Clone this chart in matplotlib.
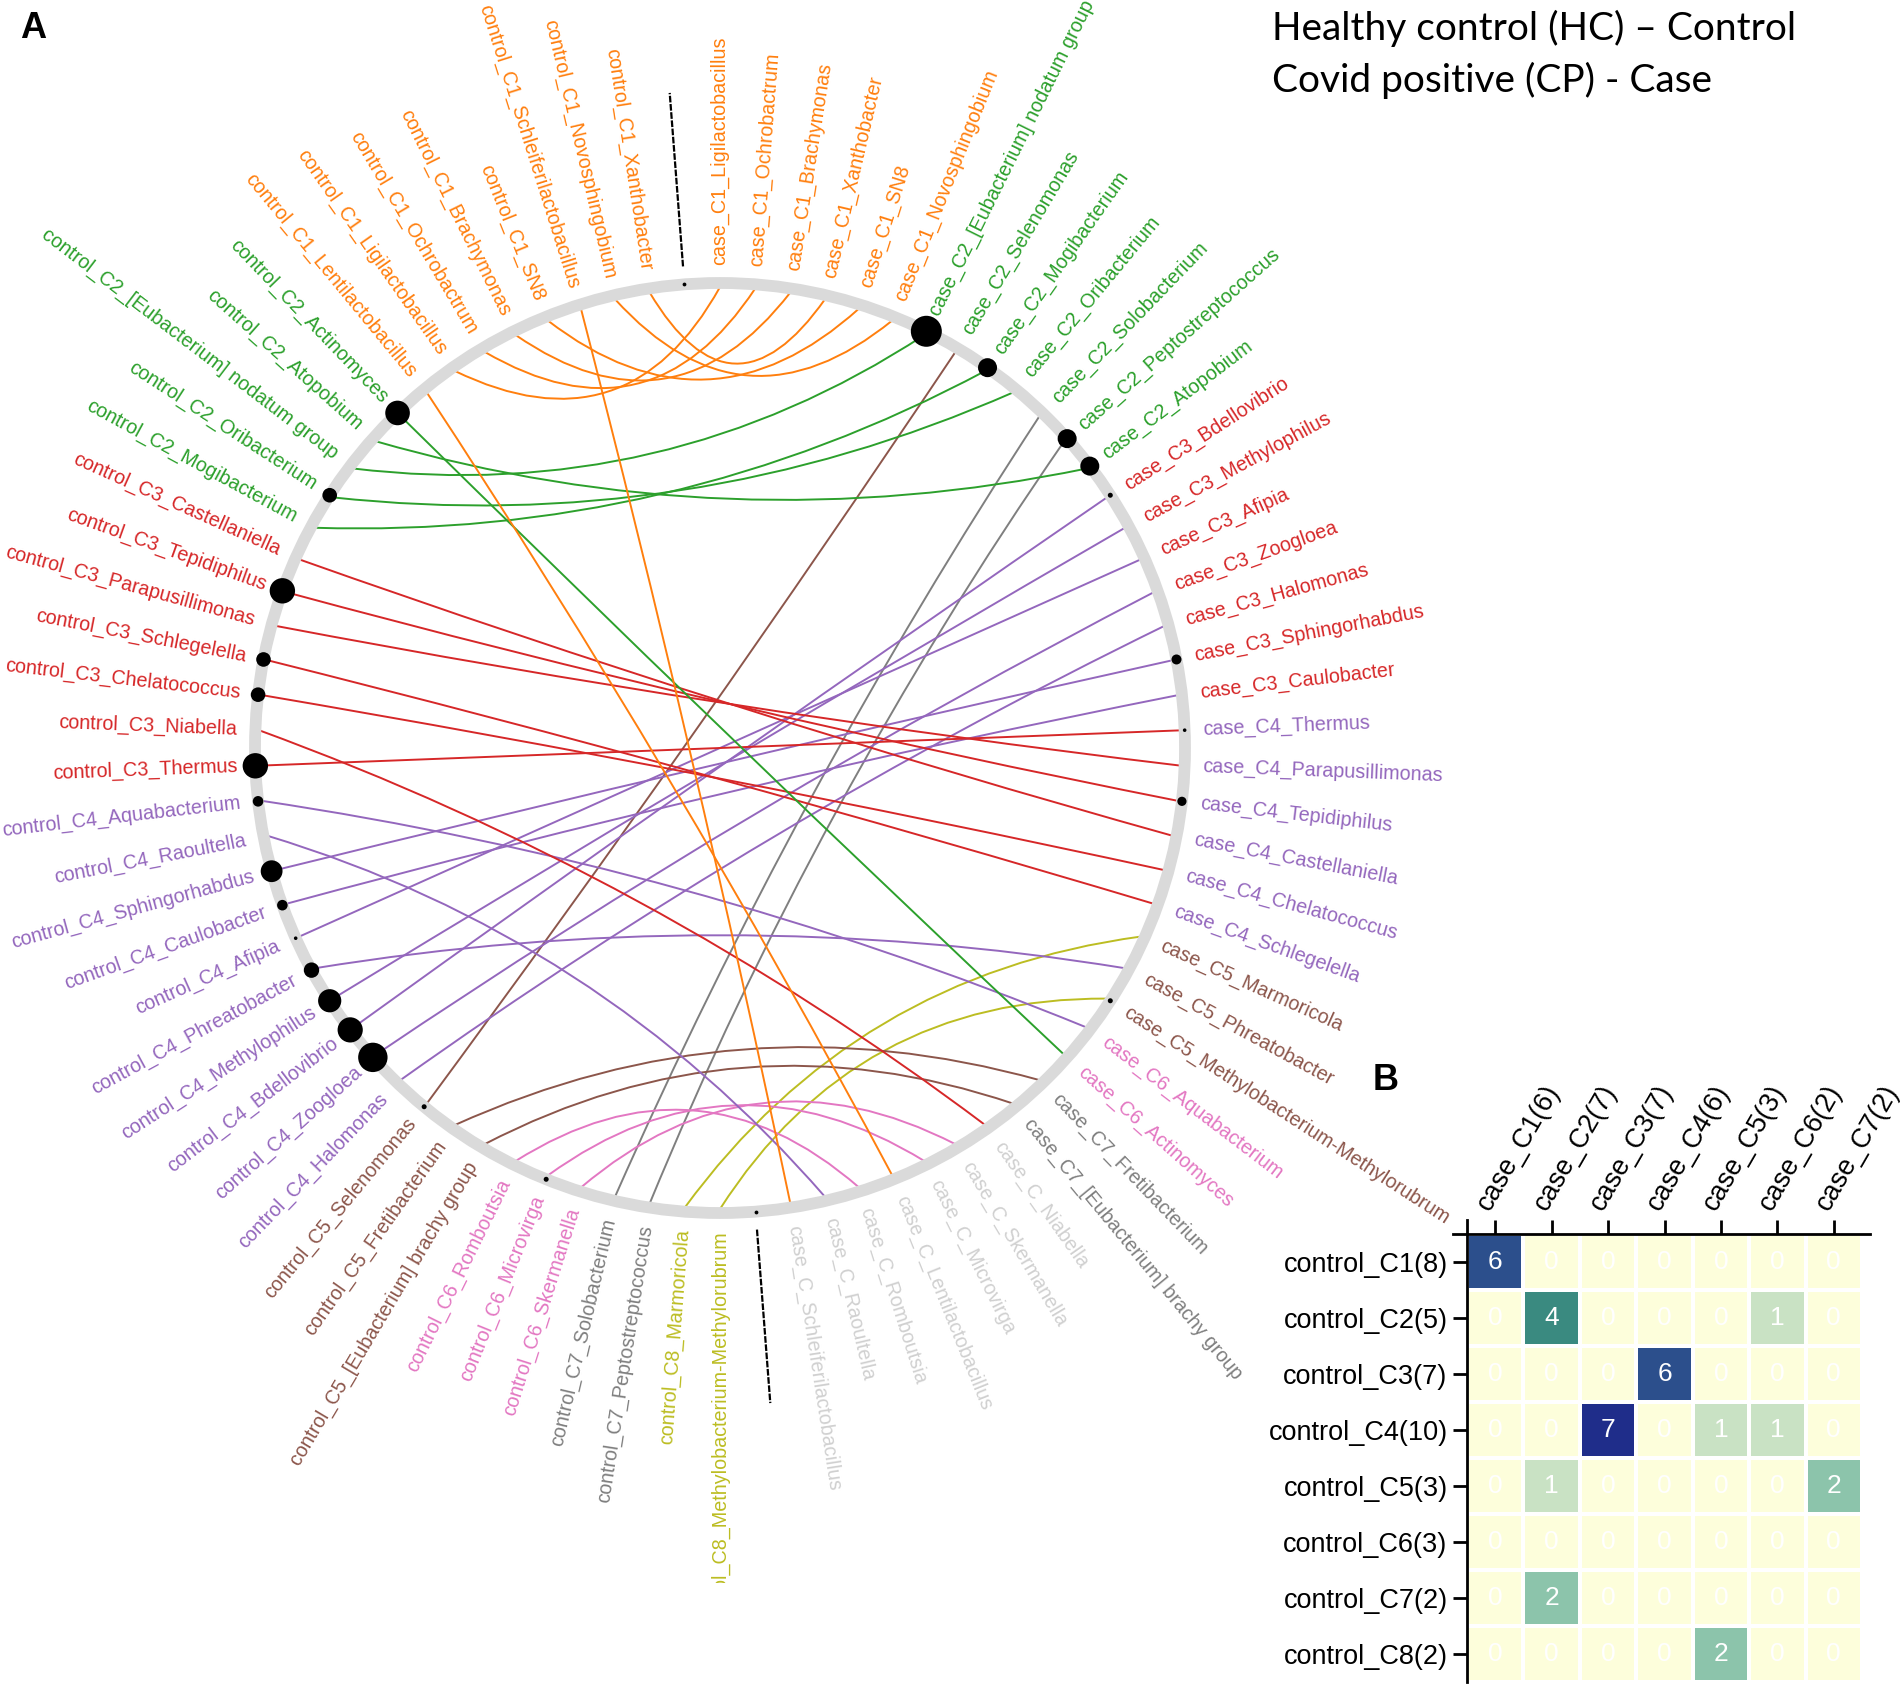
import numpy as np
import matplotlib
matplotlib.use("Agg")
import matplotlib.pyplot as plt
from matplotlib.path import Path
from matplotlib.patches import PathPatch, Circle
from matplotlib.transforms import Bbox, TransformedBbox
from matplotlib.colors import LinearSegmentedColormap

plt.rcParams['font.family'] = ['Liberation Sans', 'DejaVu Sans']

# nodes clockwise from the top gap: case half first, then control half
case_nodes = [
    "case_C1_Ligilactobacillus", "case_C1_Ochrobactrum", "case_C1_Brachymonas",
    "case_C1_Xanthobacter", "case_C1_SN8", "case_C1_Novosphingobium",
    "case_C2_[Eubacterium] nodatum group", "case_C2_Selenomonas", "case_C2_Mogibacterium",
    "case_C2_Oribacterium", "case_C2_Solobacterium", "case_C2_Peptostreptococcus",
    "case_C2_Atopobium",
    "case_C3_Bdellovibrio", "case_C3_Methylophilus", "case_C3_Afipia", "case_C3_Zoogloea",
    "case_C3_Halomonas", "case_C3_Sphingorhabdus", "case_C3_Caulobacter",
    "case_C4_Thermus", "case_C4_Parapusillimonas", "case_C4_Tepidiphilus",
    "case_C4_Castellaniella", "case_C4_Chelatococcus", "case_C4_Schlegelella",
    "case_C5_Marmoricola", "case_C5_Phreatobacter", "case_C5_Methylobacterium-Methylorubrum",
    "case_C6_Aquabacterium", "case_C6_Actinomyces",
    "case_C7_Fretibacterium", "case_C7_[Eubacterium] brachy group",
    "case_C_Niabella", "case_C_Skermanella", "case_C_Microvirga", "case_C_Lentilactobacillus",
    "case_C_Romboutsia", "case_C_Raoultella", "case_C_Schleiferilactobacillus",
]
control_nodes = [
    "control_C8_Methylobacterium-Methylorubrum", "control_C8_Marmoricola",
    "control_C7_Peptostreptococcus", "control_C7_Solobacterium",
    "control_C6_Skermanella", "control_C6_Microvirga", "control_C6_Romboutsia",
    "control_C5_[Eubacterium] brachy group", "control_C5_Fretibacterium", "control_C5_Selenomonas",
    "control_C4_Halomonas", "control_C4_Zoogloea", "control_C4_Bdellovibrio",
    "control_C4_Methylophilus", "control_C4_Phreatobacter", "control_C4_Afipia",
    "control_C4_Caulobacter", "control_C4_Sphingorhabdus", "control_C4_Raoultella",
    "control_C4_Aquabacterium",
    "control_C3_Thermus", "control_C3_Niabella", "control_C3_Chelatococcus",
    "control_C3_Schlegelella", "control_C3_Parapusillimonas", "control_C3_Tepidiphilus",
    "control_C3_Castellaniella",
    "control_C2_Mogibacterium", "control_C2_Oribacterium", "control_C2_[Eubacterium] nodatum group",
    "control_C2_Atopobium", "control_C2_Actinomyces",
    "control_C1_Lentilactobacillus", "control_C1_Ligilactobacillus", "control_C1_Ochrobactrum",
    "control_C1_Brachymonas", "control_C1_SN8", "control_C1_Schleiferilactobacillus",
    "control_C1_Novosphingobium", "control_C1_Xanthobacter",
]

# node weight shown as dot size (0 = no dot)
node_weight = {
    "case_C2_[Eubacterium] nodatum group": 15.5, "case_C2_Mogibacterium": 9.5,
    "case_C2_Peptostreptococcus": 9.5, "case_C2_Atopobium": 9.5,
    "case_C3_Bdellovibrio": 2.5, "case_C3_Sphingorhabdus": 5.0, "case_C4_Thermus": 1.8,
    "case_C4_Tepidiphilus": 4.6, "case_C5_Methylobacterium-Methylorubrum": 2.5,
    "control_C6_Microvirga": 2.5, "control_C5_Selenomonas": 2.5,
    "control_C4_Zoogloea": 14.7, "control_C4_Bdellovibrio": 12.6,
    "control_C4_Methylophilus": 11.6, "control_C4_Phreatobacter": 7.7,
    "control_C4_Afipia": 1.8, "control_C4_Caulobacter": 5.3,
    "control_C4_Sphingorhabdus": 10.9, "control_C4_Aquabacterium": 5.3,
    "control_C3_Thermus": 12.7, "control_C3_Chelatococcus": 7.3,
    "control_C3_Schlegelella": 7.3, "control_C3_Tepidiphilus": 12.7,
    "control_C2_Oribacterium": 7.3, "control_C2_Actinomyces": 12.3,
}

cluster_colors = {
    "C1": "#ff7f0e", "C2": "#2ca02c", "C3": "#d62728", "C4": "#9467bd",
    "C5": "#8c564b", "C6": "#e377c2", "C7": "#7f7f7f", "C8": "#bcbd22", "C": "#d0d0d0",
}

# panel B: shared genera between control and case clusters
row_labels = ["control_C1(8)", "control_C2(5)", "control_C3(7)", "control_C4(10)",
              "control_C5(3)", "control_C6(3)", "control_C7(2)", "control_C8(2)"]
col_labels = ["case_C1(6)", "case_C2(7)", "case_C3(7)", "case_C4(6)",
              "case_C5(3)", "case_C6(2)", "case_C7(2)"]
shared = np.array([
    [6, 0, 0, 0, 0, 0, 0],
    [0, 4, 0, 0, 0, 1, 0],
    [0, 0, 0, 6, 0, 0, 0],
    [0, 0, 7, 0, 1, 1, 0],
    [0, 1, 0, 0, 0, 0, 2],
    [0, 0, 0, 0, 0, 0, 0],
    [0, 2, 0, 0, 0, 0, 0],
    [0, 0, 0, 0, 2, 0, 0],
])


def cluster(name):
    return name.split("_")[1]


def genus(name):
    return name.split("_", 2)[2]


W, H = 1902, 1689
fig = plt.figure(figsize=(W / 100, H / 100), dpi=100)
ax = fig.add_axes([0, 0, 1, 1])
ax.set_xlim(0, W)
ax.set_ylim(H, 0)
ax.axis("off")

# panel A was cropped a bit above the bottom of the figure
panel_box = TransformedBbox(Bbox([[0, 0], [W, 1583]]), ax.transData)

cx, cy, R = 720, 748, 465
n_slots = len(case_nodes) + len(control_nodes) + 2
step = 360.0 / n_slots
slot = {}
for i, nm in enumerate(case_nodes):
    slot[nm] = i
for j, nm in enumerate(control_nodes):
    slot[nm] = len(case_nodes) + 1 + j
gap_slots = [len(case_nodes), n_slots - 1]


def pos(s, r):
    t = np.radians(s * step)
    return np.array([cx + r * np.sin(t), cy - r * np.cos(t)])


# ring
ax.add_patch(Circle((cx, cy), R, fill=False, ec="#dadada", lw=8.5, zorder=2))

# edges: same genus in control and case, bezier pulled toward the centre
case_by_genus = {genus(n): n for n in case_nodes}
center = np.array([cx, cy])
for cn in control_nodes:
    tn = case_by_genus[genus(cn)]
    p0 = pos(slot[cn], R - 4)
    p2 = pos(slot[tn], R - 4)
    m = (p0 + p2) / 2
    c = center + 0.7 * (m - center)
    path = Path([p0, c, p2], [Path.MOVETO, Path.CURVE3, Path.CURVE3])
    ax.add_patch(PathPatch(path, fc="none", ec=cluster_colors[cluster(cn)], lw=1.4, zorder=1))

# dots
names = [n for n in case_nodes + control_nodes if node_weight.get(n, 0) > 0]
pts = np.array([pos(slot[n], R) for n in names])
sizes = [(1.44 * node_weight[n]) ** 2 for n in names]
ax.scatter(pts[:, 0], pts[:, 1], s=sizes, c="black", lw=0, zorder=3)

# gap markers
for s in gap_slots:
    p = pos(s, R)
    ax.scatter([p[0]], [p[1]], s=(1.44 * 1.9) ** 2, c="black", lw=0, zorder=3)
    a, b = pos(s, R + 18), pos(s, R + 192)
    ax.plot([a[0], b[0]], [a[1], b[1]], color="black", lw=1.6, ls=(0, (3, 0.7)))

# labels
for nm in case_nodes + control_nodes:
    th = slot[nm] * step
    p = pos(slot[nm], R + 18)
    if th < 180:
        rot, ha = 90 - th, "left"
    else:
        rot, ha = 270 - th, "right"
    t = ax.text(p[0], p[1], nm, rotation=rot, ha=ha, va="center", rotation_mode="anchor",
                fontsize=14.2, color=cluster_colors[cluster(nm)], clip_on=True)
    t.set_clip_box(panel_box)

ax.text(20, 28, "A", fontsize=26, fontweight="bold", ha="left", va="center")
ax.text(1386, 1080, "B", fontsize=26, fontweight="bold", ha="center", va="center")
ax.text(1272, 28, "Healthy control (HC) \u2013 Control", fontsize=28, family="Lato",
        ha="left", va="center")
ax.text(1272, 80, "Covid positive (CP) - Case", fontsize=28, family="Lato",
        ha="left", va="center")

# panel B heatmap
cmap = LinearSegmentedColormap.from_list(
    "shared", [(0, "#fdfedb"), (1 / 7, "#c8e2c4"), (2 / 7, "#8cc4ab"),
               (4 / 7, "#3a8a80"), (6 / 7, "#2c4f8c"), (1, "#1f2d8a")])
ax2 = fig.add_axes([1467 / W, 1 - 1682 / H, 395 / W, 448 / H])
ax2.pcolormesh(shared, cmap=cmap, vmin=0, vmax=7, edgecolors="white", linewidth=1.5)
ax2.set_xlim(0, shared.shape[1])
ax2.set_ylim(shared.shape[0], 0)
for i in range(shared.shape[0]):
    for j in range(shared.shape[1]):
        ax2.text(j + 0.5, i + 0.5, str(shared[i, j]), ha="center", va="center",
                 color="white", fontsize=19)
ax2.xaxis.tick_top()
ax2.set_xticks(np.arange(shared.shape[1]) + 0.5)
ax2.set_xticklabels(col_labels, rotation=60, ha="left", rotation_mode="anchor")
ax2.set_yticks(np.arange(shared.shape[0]) + 0.5)
ax2.set_yticklabels(row_labels)
ax2.tick_params(direction="out", length=10, width=2, labelsize=19.5, pad=4)
for side in ["right", "bottom"]:
    ax2.spines[side].set_visible(False)
for side in ["left", "top"]:
    ax2.spines[side].set_linewidth(2)
ax2.spines["left"].set_bounds(-0.25, shared.shape[0])
ax2.spines["top"].set_bounds(-0.25, shared.shape[1] + 0.15)

fig.savefig("out.png", dpi=100)
